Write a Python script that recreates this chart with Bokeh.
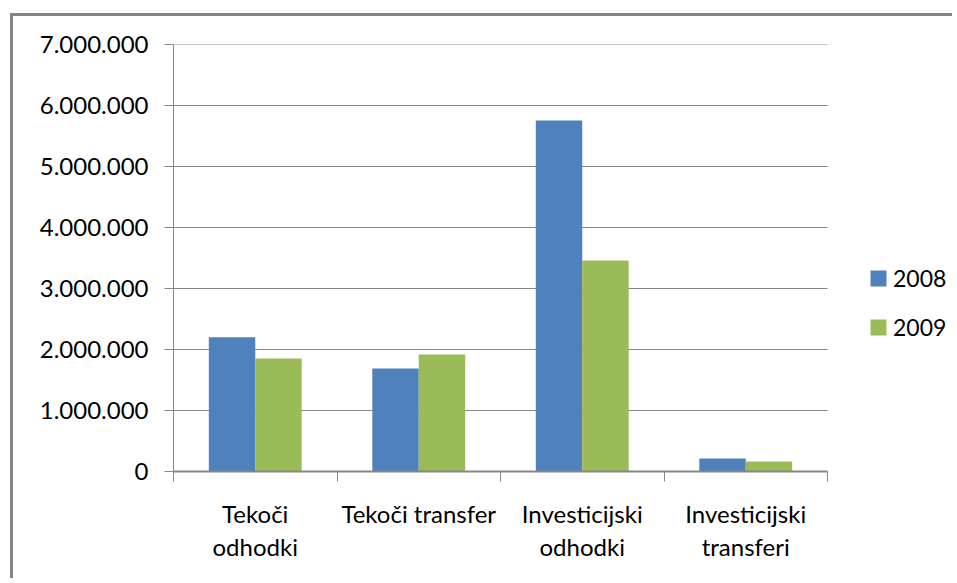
from bokeh.plotting import figure
from bokeh.models import (Range1d, LinearAxis, FixedTicker,
                          ColumnDataSource, Legend, LegendItem)
from bokeh.transform import dodge
from bokeh.embed import file_html
from bokeh.resources import INLINE

categories = ["Tekoči\nodhodki", "Tekoči transfer", "Investicijski\nodhodki", "Investicijski\ntransferi"]
series_names = ["2008", "2009"]
values_2008 = [2200000, 1690000, 5755000, 213000]
values_2009 = [1852000, 1918000, 3460000, 164000]
y_ticks = [0, 1000000, 2000000, 3000000, 4000000, 5000000, 6000000, 7000000]
y_tick_labels = ["0", "1.000.000", "2.000.000", "3.000.000", "4.000.000", "5.000.000", "6.000.000", "7.000.000"]

BLUE = "#4F81BD"
GREEN = "#9BBB59"
GRAY = "#868686"
FONT = "Lato"

# layout (pixels)
W, H = 942, 565
LEFT, TOP, BOTTOM = 160, 28, 110
PLOT_AREA_W = 654          # width of the bar area inside the frame
frame_w = W - LEFT

n = len(categories)
centers = [i + 0.5 for i in range(n)]
src = ColumnDataSource(dict(xc=centers, v2008=values_2008, v2009=values_2009))
grid_src = ColumnDataSource(dict(y=y_ticks[1:], x0=[0] * (len(y_ticks) - 1), x1=[n] * (len(y_ticks) - 1)))

p = figure(width=W, height=H, output_backend="svg", toolbar_location=None,
           x_range=Range1d(0, n * frame_w / PLOT_AREA_W), y_range=Range1d(0, 7000000),
           x_axis_location=None, y_axis_location=None,
           min_border_left=LEFT, min_border_right=0, min_border_top=TOP, min_border_bottom=BOTTOM,
           styles={"border-top": "3px solid #868686", "border-left": "3px solid #868686",
                   "margin-top": "13px", "margin-left": "10px"})
p.outline_line_color = None
p.background_fill_color = "white"
p.border_fill_color = "white"
p.xgrid.visible = False
p.ygrid.visible = False

# horizontal gridlines, limited to the bar area
p.segment(x0="x0", x1="x1", y0="y", y1="y", source=grid_src, line_color=GRAY, line_width=1)

r1 = p.vbar(x=dodge("xc", -0.142), top="v2008", width=0.284, source=src,
            fill_color=BLUE, line_color=None)
r2 = p.vbar(x=dodge("xc", 0.142), top="v2009", width=0.284, source=src,
            fill_color=GREEN, line_color=None)

# y axis
yax = LinearAxis(ticker=FixedTicker(ticks=y_ticks, minor_ticks=[]))
yax.major_label_overrides = {t: l for t, l in zip(y_ticks, y_tick_labels)}
yax.axis_line_color = GRAY
yax.axis_line_width = 1
yax.major_tick_line_color = GRAY
yax.major_tick_out = 9
yax.major_tick_in = 0
yax.minor_tick_line_color = None
yax.major_label_standoff = 16
yax.major_label_text_font = FONT
yax.major_label_text_font_size = "24px"
yax.major_label_text_color = "black"
p.add_layout(yax, "left")

# x axis: tick marks at category edges
edge_ticks = list(range(n + 1))
xax_edges = LinearAxis(ticker=FixedTicker(ticks=edge_ticks, minor_ticks=[]), bounds=(0, n))
xax_edges.major_label_overrides = {t: "" for t in edge_ticks}
xax_edges.major_label_text_font_size = "0px"
xax_edges.major_label_standoff = 0
xax_edges.axis_line_color = GRAY
xax_edges.axis_line_width = 2
xax_edges.major_tick_line_color = GRAY
xax_edges.major_tick_out = 10
xax_edges.major_tick_in = 0
xax_edges.minor_tick_line_color = None
p.add_layout(xax_edges, "below")

# x axis: category labels at centers
xax = LinearAxis(ticker=FixedTicker(ticks=centers, minor_ticks=[]), bounds=(0, n))
xax.major_label_overrides = {c: name for c, name in zip(centers, categories)}
xax.axis_line_color = None
xax.major_tick_line_color = None
xax.major_tick_out = 0
xax.major_tick_in = 0
xax.minor_tick_line_color = None
xax.major_label_standoff = 17
xax.major_label_text_font = FONT
xax.major_label_text_font_size = "24px"
xax.major_label_text_color = "black"
xax.major_label_text_line_height = 1.15
p.add_layout(xax, "below")

legend = Legend(items=[LegendItem(label=series_names[0], renderers=[r1]),
                       LegendItem(label=series_names[1], renderers=[r2])],
                location=(695, 130))
legend.border_line_color = None
legend.background_fill_alpha = 0
legend.padding = 0
legend.margin = 0
legend.glyph_width = 20
legend.glyph_height = 20
legend.label_standoff = 5
legend.label_height = 24
legend.spacing = 21
legend.label_text_font = FONT
legend.label_text_font_size = "23px"
legend.label_text_color = "black"
p.add_layout(legend, "center")

open("out.html", "w").write(file_html(p, INLINE))
